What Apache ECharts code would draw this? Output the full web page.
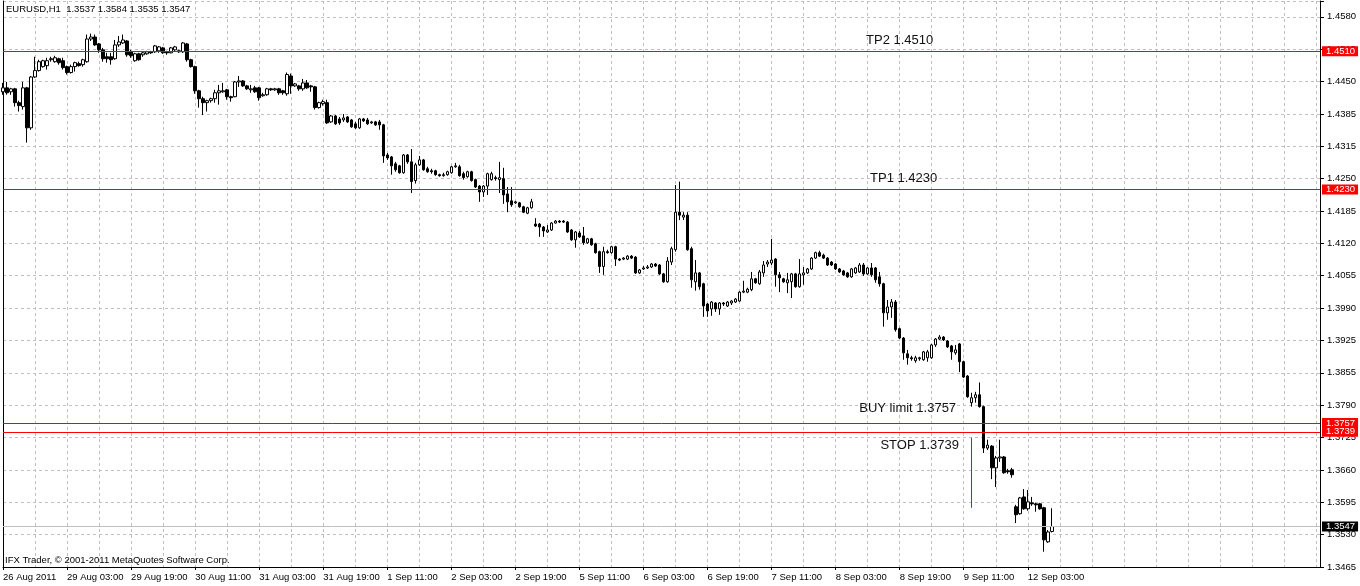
<!DOCTYPE html>
<html>
<head>
<meta charset="utf-8">
<title>EURUSD,H1</title>
<script src="https://cdn.jsdelivr.net/npm/echarts@6/dist/echarts.min.js"></script>
<style>
  html, body { margin: 0; padding: 0; background: #fff; }
  #chart { width: 1360px; height: 586px; }
</style>
</head>
<body>
<div id="chart"></div>
<script>
// EURUSD H1 bars, oldest first: 26 Aug 2011 11:00 ... 12 Sep 2011 09:00
var opens = [
  1.4428,1.4436,1.4428,1.4434,1.4406,1.4398,1.4436,1.4355,1.4458,1.4471,
  1.4479,1.4481,1.4493,1.4489,1.4495,1.4491,1.4479,1.4467,1.4479,1.4485,
  1.4483,1.4489,1.4535,1.4539,1.4525,1.4513,1.4499,1.4499,1.4495,1.4523,
  1.4527,1.4531,1.4509,1.4491,1.4505,1.4503,1.4505,1.4509,1.4509,1.4511,
  1.4517,1.4509,1.4507,1.4513,1.4511,1.4509,1.4525,1.4493,1.4479,1.4430,
  1.4414,1.4406,1.4410,1.4414,1.4426,1.4428,1.4432,1.4418,1.4418,1.4448,
  1.4450,1.4440,1.4432,1.4436,1.4436,1.4420,1.4422,1.4434,1.4432,1.4434,
  1.4430,1.4424,1.4460,1.4440,1.4440,1.4434,1.4446,1.4440,1.4438,1.4396,
  1.4404,1.4406,1.4367,1.4379,1.4373,1.4371,1.4377,1.4371,1.4363,1.4355,
  1.4373,1.4371,1.4365,1.4367,1.4367,1.4361,1.4300,1.4296,1.4282,1.4278,
  1.4264,1.4300,1.4286,1.4248,1.4280,1.4290,1.4272,1.4268,1.4268,1.4260,
  1.4258,1.4260,1.4264,1.4276,1.4276,1.4262,1.4256,1.4266,1.4250,1.4237,
  1.4225,1.4237,1.4250,1.4254,1.4250,1.4252,1.4221,1.4207,1.4203,1.4203,
  1.4195,1.4182,1.4193,1.4160,1.4160,1.4154,1.4144,1.4148,1.4162,1.4166,
  1.4166,1.4164,1.4148,1.4128,1.4142,1.4136,1.4122,1.4130,1.4120,1.4104,
  1.4074,1.4104,1.4102,1.4114,1.4089,1.4089,1.4089,1.4095,1.4093,1.4061,
  1.4069,1.4071,1.4073,1.4079,1.4077,1.4059,1.4043,1.4083,1.4108,1.4184,
  1.4174,1.4178,1.4110,1.4043,1.4061,1.4039,1.3998,1.3988,1.4000,1.3988,
  1.4000,1.3994,1.4000,1.4002,1.4004,1.4022,1.4022,1.4027,1.4049,1.4039,
  1.4061,1.4079,1.4081,1.4089,1.4057,1.4049,1.4041,1.4043,1.4059,1.4033,
  1.4057,1.4061,1.4069,1.4091,1.4102,1.4097,1.4091,1.4083,1.4079,1.4069,
  1.4065,1.4061,1.4053,1.4061,1.4063,1.4077,1.4059,1.4071,1.4071,1.4053,
  1.4039,1.3980,1.3992,1.4002,1.3948,1.3929,1.3897,1.3889,1.3883,1.3887,
  1.3885,1.3889,1.3889,1.3915,1.3927,1.3931,1.3923,1.3913,1.3899,1.3917,
  1.3881,1.3852,1.3798,1.3808,1.3814,1.3790,1.3706,1.3710,1.3666,1.3686,
  1.3688,1.3660,1.3662,1.3587,1.3573,1.3607,1.3583,1.3595,1.3593,1.3593,
  1.3585,1.3516,1.3537
];
var closes = [
  1.4436,1.4426,1.4434,1.4406,1.4400,1.4436,1.4355,1.4458,1.4471,1.4489,
  1.4491,1.4491,1.4495,1.4497,1.4487,1.4477,1.4467,1.4479,1.4487,1.4481,
  1.4493,1.4535,1.4539,1.4523,1.4513,1.4495,1.4495,1.4493,1.4523,1.4529,
  1.4533,1.4503,1.4501,1.4505,1.4493,1.4507,1.4509,1.4507,1.4521,1.4519,
  1.4507,1.4507,1.4517,1.4519,1.4509,1.4527,1.4493,1.4479,1.4430,1.4414,
  1.4406,1.4410,1.4414,1.4426,1.4430,1.4430,1.4418,1.4416,1.4448,1.4450,
  1.4440,1.4434,1.4434,1.4428,1.4416,1.4422,1.4434,1.4432,1.4434,1.4426,
  1.4426,1.4463,1.4440,1.4444,1.4434,1.4446,1.4436,1.4438,1.4396,1.4406,
  1.4408,1.4365,1.4379,1.4363,1.4365,1.4375,1.4367,1.4357,1.4355,1.4373,
  1.4369,1.4363,1.4367,1.4361,1.4361,1.4298,1.4294,1.4278,1.4270,1.4264,
  1.4300,1.4286,1.4246,1.4280,1.4290,1.4270,1.4266,1.4266,1.4260,1.4258,
  1.4260,1.4266,1.4276,1.4278,1.4258,1.4254,1.4266,1.4248,1.4235,1.4225,
  1.4237,1.4262,1.4262,1.4252,1.4254,1.4219,1.4205,1.4199,1.4205,1.4195,
  1.4184,1.4193,1.4205,1.4156,1.4154,1.4146,1.4148,1.4162,1.4166,1.4164,
  1.4164,1.4144,1.4128,1.4144,1.4134,1.4122,1.4130,1.4118,1.4102,1.4074,
  1.4104,1.4102,1.4114,1.4089,1.4087,1.4091,1.4095,1.4091,1.4061,1.4067,
  1.4071,1.4073,1.4079,1.4075,1.4059,1.4043,1.4085,1.4110,1.4184,1.4178,
  1.4178,1.4108,1.4047,1.4061,1.4033,1.3994,1.3984,1.4002,1.3988,1.4000,
  1.3998,1.4002,1.4004,1.4008,1.4022,1.4024,1.4028,1.4049,1.4041,1.4063,
  1.4077,1.4083,1.4087,1.4057,1.4051,1.4043,1.4047,1.4059,1.4033,1.4059,
  1.4061,1.4069,1.4091,1.4102,1.4095,1.4091,1.4077,1.4077,1.4069,1.4063,
  1.4057,1.4053,1.4069,1.4071,1.4077,1.4059,1.4071,1.4057,1.4047,1.4039,
  1.3980,1.3992,1.4002,1.3946,1.3929,1.3899,1.3889,1.3887,1.3889,1.3889,
  1.3901,1.3901,1.3915,1.3927,1.3931,1.3925,1.3911,1.3901,1.3905,1.3881,
  1.3850,1.3810,1.3808,1.3814,1.3790,1.3706,1.3712,1.3666,1.3686,1.3688,
  1.3656,1.3658,1.3652,1.3571,1.3605,1.3583,1.3597,1.3593,1.3591,1.3583,
  1.3520,1.3536,1.3547
];
var lows = [
  1.4422,1.4422,1.4422,1.4398,1.4388,1.4392,1.4325,1.4351,1.4456,1.4469,
  1.4477,1.4473,1.4489,1.4487,1.4483,1.4473,1.4463,1.4465,1.4469,1.4479,
  1.4479,1.4487,1.4531,1.4521,1.4507,1.4489,1.4487,1.4483,1.4493,1.4519,
  1.4525,1.4499,1.4497,1.4489,1.4491,1.4499,1.4503,1.4505,1.4507,1.4507,
  1.4505,1.4503,1.4506,1.4511,1.4507,1.4507,1.4489,1.4477,1.4424,1.4396,
  1.4381,1.4388,1.4406,1.4406,1.4402,1.4426,1.4412,1.4408,1.4417,1.4438,
  1.4438,1.4432,1.4426,1.4426,1.4410,1.4418,1.4420,1.4430,1.4430,1.4422,
  1.4422,1.4420,1.4424,1.4438,1.4430,1.4430,1.4434,1.4428,1.4392,1.4394,
  1.4400,1.4363,1.4365,1.4361,1.4361,1.4367,1.4365,1.4355,1.4353,1.4353,
  1.4367,1.4361,1.4363,1.4359,1.4351,1.4284,1.4290,1.4260,1.4266,1.4262,
  1.4262,1.4282,1.4223,1.4242,1.4278,1.4268,1.4264,1.4262,1.4258,1.4256,
  1.4256,1.4258,1.4262,1.4274,1.4256,1.4250,1.4254,1.4246,1.4233,1.4205,
  1.4215,1.4219,1.4248,1.4248,1.4223,1.4201,1.4184,1.4195,1.4201,1.4193,
  1.4182,1.4180,1.4191,1.4154,1.4134,1.4134,1.4142,1.4146,1.4161,1.4162,
  1.4162,1.4142,1.4126,1.4112,1.4132,1.4118,1.4120,1.4116,1.4100,1.4061,
  1.4057,1.4100,1.4100,1.4075,1.4085,1.4087,1.4087,1.4089,1.4059,1.4059,
  1.4067,1.4069,1.4071,1.4073,1.4057,1.4041,1.4041,1.4077,1.4104,1.4168,
  1.4168,1.4106,1.4031,1.4025,1.4027,1.3972,1.3972,1.3974,1.3982,1.3976,
  1.3994,1.3992,1.3996,1.4000,1.4002,1.4020,1.4020,1.4024,1.4039,1.4037,
  1.4053,1.4073,1.4077,1.4033,1.4022,1.4041,1.4020,1.4010,1.4031,1.4031,
  1.4037,1.4059,1.4067,1.4089,1.4093,1.4089,1.4075,1.4075,1.4067,1.4061,
  1.4055,1.4051,1.4051,1.4059,1.4061,1.4055,1.4057,1.4053,1.4041,1.4033,
  1.3952,1.3966,1.3970,1.3942,1.3927,1.3885,1.3875,1.3883,1.3879,1.3883,
  1.3883,1.3881,1.3887,1.3911,1.3925,1.3923,1.3909,1.3885,1.3895,1.3860,
  1.3848,1.3808,1.3790,1.3798,1.3788,1.3696,1.3702,1.3643,1.3627,1.3678,
  1.3654,1.3654,1.3646,1.3554,1.3571,1.3581,1.3579,1.3589,1.3577,1.3581,
  1.3496,1.3514,1.3535
];
var highs = [
  1.4446,1.4448,1.4436,1.4436,1.4410,1.4448,1.4438,1.4460,1.4499,1.4493,
  1.4493,1.4497,1.4499,1.4501,1.4497,1.4497,1.4481,1.4483,1.4489,1.4489,
  1.4495,1.4544,1.4546,1.4544,1.4527,1.4517,1.4507,1.4507,1.4533,1.4541,
  1.4544,1.4533,1.4513,1.4507,1.4507,1.4509,1.4511,1.4511,1.4523,1.4521,
  1.4519,1.4511,1.4519,1.4521,1.4513,1.4529,1.4527,1.4495,1.4481,1.4432,
  1.4418,1.4412,1.4416,1.4432,1.4442,1.4446,1.4434,1.4420,1.4450,1.4460,
  1.4452,1.4442,1.4442,1.4440,1.4438,1.4426,1.4436,1.4436,1.4436,1.4436,
  1.4432,1.4467,1.4465,1.4446,1.4442,1.4454,1.4452,1.4442,1.4440,1.4408,
  1.4412,1.4412,1.4381,1.4381,1.4377,1.4383,1.4379,1.4373,1.4367,1.4375,
  1.4375,1.4375,1.4369,1.4369,1.4371,1.4363,1.4304,1.4298,1.4286,1.4280,
  1.4302,1.4302,1.4312,1.4284,1.4298,1.4292,1.4276,1.4272,1.4270,1.4262,
  1.4264,1.4268,1.4278,1.4284,1.4280,1.4266,1.4268,1.4268,1.4252,1.4239,
  1.4239,1.4264,1.4266,1.4258,1.4286,1.4274,1.4235,1.4235,1.4207,1.4205,
  1.4197,1.4195,1.4211,1.4172,1.4162,1.4156,1.4158,1.4164,1.4168,1.4168,
  1.4168,1.4166,1.4150,1.4146,1.4146,1.4154,1.4132,1.4132,1.4122,1.4106,
  1.4114,1.4108,1.4116,1.4116,1.4091,1.4093,1.4097,1.4097,1.4095,1.4069,
  1.4075,1.4077,1.4081,1.4081,1.4079,1.4061,1.4093,1.4114,1.4239,1.4246,
  1.4184,1.4184,1.4114,1.4087,1.4063,1.4041,1.4000,1.4004,1.4002,1.4002,
  1.4002,1.4004,1.4006,1.4010,1.4024,1.4045,1.4031,1.4063,1.4051,1.4067,
  1.4085,1.4087,1.4130,1.4091,1.4063,1.4051,1.4061,1.4061,1.4061,1.4089,
  1.4073,1.4071,1.4093,1.4104,1.4106,1.4100,1.4093,1.4085,1.4081,1.4071,
  1.4067,1.4063,1.4071,1.4073,1.4081,1.4081,1.4073,1.4081,1.4073,1.4063,
  1.4041,1.4006,1.4008,1.4006,1.3950,1.3931,1.3905,1.3893,1.3893,1.3891,
  1.3903,1.3905,1.3917,1.3929,1.3935,1.3933,1.3925,1.3915,1.3915,1.3919,
  1.3883,1.3854,1.3818,1.3820,1.3839,1.3792,1.3723,1.3712,1.3690,1.3723,
  1.3690,1.3664,1.3666,1.3591,1.3607,1.3623,1.3621,1.3607,1.3595,1.3595,
  1.3587,1.3540,1.3584
];

// one label every 16 bars, starting at bar 0
var xTickLabels = ['26 Aug 2011', '29 Aug 03:00', '29 Aug 19:00', '30 Aug 11:00', '31 Aug 03:00',
  '31 Aug 19:00', '1 Sep 11:00', '2 Sep 03:00', '2 Sep 19:00', '5 Sep 11:00', '6 Sep 03:00',
  '6 Sep 19:00', '7 Sep 11:00', '8 Sep 03:00', '8 Sep 19:00', '9 Sep 11:00', '12 Sep 03:00'];
// price scale labels, bottom to top
var yTickLabels = ['1.3465', '1.3530', '1.3595', '1.3660', '1.3725', '1.3790', '1.3855', '1.3925',
  '1.3990', '1.4055', '1.4120', '1.4185', '1.4250', '1.4315', '1.4385', '1.4450', '1.4515', '1.4580'];

var levelPrices = [1.4510, 1.4230, 1.3757, 1.3739];
var bidPrice = 1.3547;
var noteTexts = ['TP2 1.4510', 'TP1 1.4230', 'BUY limit 1.3757', 'STOP 1.3739'];
var noteBars = [223.8, 224.6, 225.8, 228.8];
var notePrices = [1.4533, 1.4252, 1.3787, 1.3712];
var stopLine = { bar: 242, from: 1.3727, to: 1.3585 };

var yMin = 1.3465, yMax = 1.4612, yStep = 0.1115 / 17;
var slotCount = 330;
var FONT = 'Liberation Sans, Arial, sans-serif';

var slots = [];
for (var i = 0; i < slotCount; i++) slots.push(String(i));
var candles = opens.map(function (o, i) { return [o, closes[i], lows[i], highs[i]]; });

function labelEvery(i) { return i % 16 === 0 && i / 16 < xTickLabels.length; }

// horizontal price line across the whole plot, price tag at its right end
function priceLine(p) {
  return [
    { coord: [0, p], label: { formatter: p.toFixed(4) } },
    { coord: [slotCount - 1, p] }
  ];
}

var tagLabel = {
  show: true,
  position: 'end',
  distance: 2,
  color: '#fff',
  fontSize: 9.5,
  lineHeight: 10,
  fontFamily: FONT,
  padding: [0, 3, 0, 4]
};

var redLines = levelPrices.map(priceLine);
redLines.push([
  { coord: [stopLine.bar, stopLine.from], label: { show: false } },
  { coord: [stopLine.bar, stopLine.to] }
]);

var chart = echarts.init(document.getElementById('chart'));
chart.setOption({
  animation: false,
  backgroundColor: '#fff',
  title: [
    {
      text: 'EURUSD,H1  1.3537 1.3584 1.3535 1.3547',
      left: 6, top: 4, padding: 0,
      textStyle: { fontSize: 9.5, fontWeight: 'normal', color: '#000', fontFamily: FONT }
    },
    {
      text: 'IFX Trader, \u00a9 2001-2011 MetaQuotes Software Corp.',
      left: 5, top: 555, padding: 0,
      textStyle: { fontSize: 9.5, fontWeight: 'normal', color: '#000', fontFamily: FONT }
    }
  ],
  grid: {
    left: 3, right: 40, top: 1, bottom: 19,
    show: true, borderWidth: 0, backgroundColor: '#fff'
  },
  xAxis: {
    type: 'category',
    data: slots,
    boundaryGap: false,
    axisLine: { show: true, lineStyle: { color: '#000', width: 1 } },
    axisTick: { show: true, interval: labelEvery, length: 3, lineStyle: { color: '#000' } },
    axisLabel: {
      interval: labelEvery,
      align: 'left',
      margin: 5,
      color: '#000',
      fontSize: 9.5,
      fontFamily: FONT,
      formatter: function (v, idx) { return xTickLabels[idx / 16] || ''; }
    },
    splitLine: {
      show: true,
      interval: function (i) { return i % 8 === 0; },
      lineStyle: { color: '#c0c0c0', width: 1, type: [3, 3] }
    }
  },
  yAxis: [
    {
      type: 'value', min: yMin, max: yMax, position: 'left',
      axisLine: { show: true, lineStyle: { color: '#000', width: 1 } },
      axisTick: { show: false }, axisLabel: { show: false }, splitLine: { show: false }
    },
    {
      type: 'value',
      position: 'right',
      min: 0,
      max: (yMax - yMin) / yStep,
      interval: 1,
      axisLine: { show: true, lineStyle: { color: '#000', width: 1 } },
      axisTick: { show: true, length: 4, lineStyle: { color: '#000' } },
      axisLabel: {
        margin: 7,
        color: '#000',
        fontSize: 9.5,
        fontFamily: FONT,
        formatter: function (v) {
          var k = Math.round(v);
          return Math.abs(v - k) < 1e-6 ? (yTickLabels[k] || '') : '';
        }
      },
      splitLine: { show: true, lineStyle: { color: '#c0c0c0', width: 1, type: [3, 3] } }
    }
  ],
  series: [
    {
      type: 'candlestick',
      yAxisIndex: 0,
      data: candles,
      barWidth: 3,
      itemStyle: {
        color: '#ffffff',
        color0: '#000000',
        borderColor: '#000000',
        borderColor0: '#000000',
        borderWidth: 1
      }
    },
    {
      // bid line
      type: 'line',
      yAxisIndex: 0,
      data: [],
      markLine: {
        silent: true,
        symbol: ['none', 'none'],
        animation: false,
        lineStyle: { color: '#c0c0c0', width: 1, type: 'solid' },
        label: Object.assign({}, tagLabel, { backgroundColor: '#000000' }),
        data: [priceLine(bidPrice)]
      }
    },
    {
      // order levels and text objects
      type: 'line',
      yAxisIndex: 0,
      data: [],
      markLine: {
        silent: true,
        symbol: ['none', 'none'],
        animation: false,
        lineStyle: { color: '#ff0000', width: 1, type: 'solid', opacity: 1 },
        label: Object.assign({}, tagLabel, { backgroundColor: '#ff0000' }),
        data: redLines
      },
      markPoint: {
        silent: true,
        symbol: 'rect',
        symbolSize: 1,
        itemStyle: { color: 'rgba(0,0,0,0)' },
        label: {
          show: true,
          position: 'inside',
          color: '#111',
          fontSize: 13,
          fontFamily: FONT,
          formatter: function (p) { return p.data.name; }
        },
        data: noteTexts.map(function (t, i) {
          return { name: t, coord: [noteBars[i], notePrices[i]] };
        })
      }
    }
  ]
});
</script>
</body>
</html>
